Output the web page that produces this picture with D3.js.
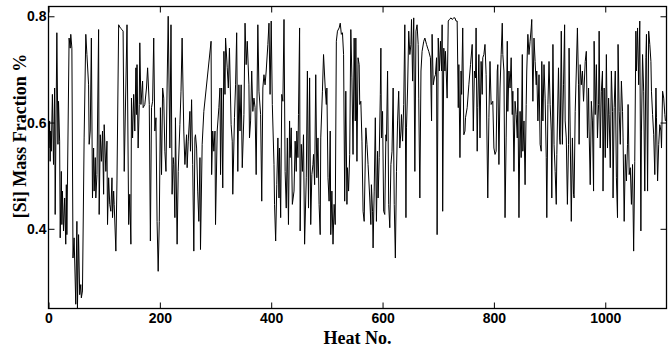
<!DOCTYPE html>
<html><head><meta charset="utf-8">
<script src="https://cdn.jsdelivr.net/npm/d3@7"></script>
<style>body{margin:0;background:#fff}</style></head><body>
<svg id="c" width="668" height="348"></svg>
<script>
const heatNo=[1,2,3,4,5,7,9,11,12,15,17,18,20,21,23,24,25,27,29,31,32,33,37,39,40,42,44,46,49,51,52,54,56,58,59,61,64,67,69,72,73,75,77,79,81,82,84,85,87,90,91,93,95,97,99,100,103,
105,106,108,110,112,114,115,117,118,121,123,126,129,132,134,136,141,144,146,148,149,151,153,155,157,158,159,161,163,164,166,169,170,173,176,178,181,183,185,187,189,191,193,195,197,199,201,203,205,207,209,211,213,215,
218,220,222,224,225,227,228,231,233,236,238,240,243,245,248,249,251,254,255,257,259,261,263,264,266,268,270,272,273,276,279,292,293,295,297,299,300,303,306,308,309,311,313,315,317,318,321,323,325,
328,330,331,334,336,338,340,342,344,346,348,351,353,355,357,360,361,363,365,367,369,371,373,376,378,381,383,385,387,389,391,394,396,398,400,402,405,406,408,410,412,414,415,417,419,421,423,425,427,429,431,433,434,436,438,
441,443,445,446,448,449,451,452,454,456,458,460,463,465,467,469,471,473,475,476,478,480,482,484,486,488,489,492,494,497,499,500,502,504,506,507,509,511,513,515,517,519,522,524,526,528,530,532,534,536,537,539,541,543,545,547,549,
551,552,554,556,558,559,561,563,565,567,570,572,574,577,579,580,582,583,585,587,589,591,592,594,596,597,598,600,602,604,606,607,609,611,613,615,617,619,621,623,625,627,629,631,633,634,636,638,640,642,643,645,647,649,651,652,654,656,658,660,
662,664,665,667,669,671,674,676,679,681,683,686,688,689,691,693,695,697,698,700,702,704,706,707,708,710,712,713,716,718,720,723,725,728,730,732,734,736,737,739,741,742,744,746,748,749,752,755,758,761,763,765,767,768,770,771,
773,775,777,779,780,782,784,786,789,791,793,795,798,800,802,804,806,807,809,811,813,815,816,818,820,822,824,825,827,829,831,833,834,836,838,840,842,843,845,847,849,851,852,854,856,858,859,861,863,865,867,868,870,872,874,876,877,879,881,883,
885,886,888,890,892,894,895,897,899,901,903,904,906,908,910,912,913,916,918,919,921,923,925,927,928,930,932,934,935,937,939,941,943,944,946,948,950,952,953,955,957,959,961,962,964,966,968,970,971,973,975,977,979,980,982,984,986,988,989,991,993,995,
996,998,1000,1002,1004,1006,1007,1009,1011,1013,1014,1016,1018,1020,1022,1023,1025,1027,1029,1031,1032,1034,1036,1038,1040,1041,1043,1045,1047,1049,1051,1053,1055,1056,1058,1060,1062,1064,1065,1067,1069,1071,1073,1074,1076,1078,1080,1082,1083,1085,1087,1089,1091,1092,1094,1096,1098,1100,1101,1103,1105,1107,1108];
const siFraction=[.552,.603,.527,.584,.546,.653,.521,.665,.427,.769,.559,.640,.565,.383,.508,.408,.471,.396,.458,.371,.483,.389,.759,.740,.766,.740,.345,.383,.258,.414,.250,.389,.276,.295,.270,.283,.571,.766,.728,.671,.559,.584,.759,.458,.552,.471,.534,.458,.502,.775,.427,.577,.527,.584,.465,.596,.508,
.565,.408,.496,.446,.433,.496,.421,.471,.446,.358,.490,.784,.778,.775,.772,.508,.784,.408,.465,.371,.646,.571,.653,.584,.703,.615,.709,.552,.634,.750,.634,.678,.628,.634,.665,.703,.634,.377,.628,.640,.759,.584,.609,.414,.320,.414,.628,.502,.665,.646,.546,.508,.665,.800,
.552,.784,.465,.534,.521,.421,.609,.371,.508,.596,.659,.759,.584,.521,.577,.515,.565,.621,.546,.643,.521,.358,.571,.577,.552,.471,.414,.534,.361,.559,.621,.753,.502,.584,.546,.584,.408,.584,.628,.665,.502,.665,.477,.734,.653,.759,.703,.665,.740,
.596,.565,.465,.609,.671,.769,.508,.671,.584,.671,.515,.615,.787,.709,.753,.671,.571,.603,.697,.621,.646,.628,.502,.784,.659,.615,.452,.665,.690,.671,.697,.747,.787,.653,.791,.634,.521,.446,.377,.483,.571,.458,.552,.421,.653,.640,.794,.508,.439,.571,.408,.603,.534,.590,.446,
.471,.565,.508,.584,.534,.615,.778,.396,.559,.508,.577,.371,.496,.697,.439,.684,.408,.502,.521,.540,.483,.690,.496,.571,.446,.389,.571,.659,.728,.665,.634,.665,.496,.452,.584,.389,.471,.371,.446,.408,.753,.772,.778,.787,.766,.769,.728,.452,.659,.446,.515,.471,.540,.775,.684,.540,.759,
.603,.759,.527,.722,.709,.634,.640,.565,.433,.414,.590,.559,.521,.458,.408,.483,.433,.364,.471,.609,.414,.546,.458,.534,.653,.740,.571,.621,.433,.427,.577,.565,.697,.446,.402,.521,.546,.665,.446,.345,.508,.603,.659,.552,.584,.615,.565,.634,.784,.421,.590,.665,.772,.728,.747,.794,.678,.797,.508,.772,
.784,.747,.646,.458,.697,.734,.753,.759,.747,.740,.734,.722,.603,.766,.671,.684,.690,.722,.389,.759,.697,.753,.697,.784,.433,.740,.697,.734,.646,.791,.794,.797,.794,.797,.797,.791,.791,.628,.709,.534,.697,.653,.778,.577,.584,.609,.628,.671,.709,.747,.584,.697,.684,.778,.546,.628,
.728,.571,.715,.653,.722,.728,.747,.690,.458,.609,.715,.634,.640,.552,.540,.546,.697,.709,.521,.665,.728,.787,.728,.697,.421,.571,.753,.621,.697,.665,.722,.615,.659,.508,.640,.615,.571,.665,.421,.621,.534,.728,.546,.603,.483,.634,.697,.766,.728,.753,.778,.794,.640,.759,.715,.671,.697,.603,.690,.559,
.546,.715,.603,.709,.646,.534,.421,.634,.715,.634,.584,.458,.747,.559,.508,.446,.540,.703,.571,.559,.772,.559,.671,.784,.603,.571,.446,.559,.740,.584,.414,.571,.465,.458,.621,.697,.778,.671,.559,.709,.671,.697,.640,.665,.715,.734,.571,.665,.584,.483,.640,.603,.471,.753,.615,.709,.571,.634,.772,.552,.659,.697,
.471,.665,.534,.728,.552,.646,.615,.515,.697,.621,.458,.628,.697,.496,.421,.747,.621,.559,.678,.621,.571,.414,.540,.490,.559,.634,.502,.515,.446,.521,.358,.527,.772,.697,.778,.671,.791,.396,.584,.728,.659,.471,.722,.766,.471,.772,.747,.715,.659,.615,.577,.502,.665,.609,.490,.559,.596,.584,.552,.659,.646,.615,.603];
const xTicks=[0,200,400,600,800,1000];
const yTicks=[0.4,0.6,0.8];
const xLabel="Heat No.";
const yLabel="[Si] Mass Fraction %";

const L=48.5,R=666.5,T=6.5,B=308.5;
const svg=d3.select("#c");
const x=d3.scaleLinear().domain([0,1110]).range([L,R]);
const y=d3.scaleLinear().domain([0.25,0.8184]).range([B,T]);

svg.append("defs").append("clipPath").attr("id","clip")
  .append("rect").attr("x",L).attr("y",T).attr("width",R-L).attr("height",B-T);

const pts=heatNo.map((h,i)=>[h,siFraction[i]]);
svg.append("path").datum(pts)
  .attr("clip-path","url(#clip)")
  .attr("fill","none").attr("stroke","#000").attr("stroke-width",1)
  .attr("stroke-linejoin","round")
  .attr("d",d3.line().x(d=>x(d[0])).y(d=>y(d[1])));

const tickFont="'Liberation Sans', Arial, sans-serif";
function style(g){g.select(".domain").remove();g.selectAll("line").attr("stroke","#000").attr("stroke-width",1);
  g.selectAll("text").attr("font-family",tickFont).attr("font-weight","bold").attr("font-size",14).attr("fill","#000");}

svg.append("g").attr("transform",`translate(0,${B})`)
  .call(d3.axisBottom(x).tickValues(xTicks).tickSizeInner(-6).tickSizeOuter(0).tickPadding(4.5).tickFormat(d3.format("d"))).call(style);
svg.append("g").attr("transform",`translate(0,${T})`)
  .call(d3.axisTop(x).tickValues(xTicks).tickSizeInner(-6).tickSizeOuter(0).tickFormat("")).call(style);
svg.append("g").attr("transform",`translate(${L},0)`)
  .call(d3.axisLeft(y).tickValues(yTicks).tickSizeInner(-6).tickSizeOuter(0).tickPadding(2).tickFormat(d3.format(".1f"))).call(style);
svg.append("g").attr("transform",`translate(${R},0)`)
  .call(d3.axisRight(y).tickValues(yTicks).tickSizeInner(-6).tickSizeOuter(0).tickFormat("")).call(style);

svg.append("rect").attr("x",L).attr("y",T).attr("width",R-L).attr("height",B-T)
  .attr("fill","none").attr("stroke","#000").attr("stroke-width",1.3);

const labFont="'Liberation Serif','Times New Roman',serif";
svg.append("text").attr("x",(L+R)/2).attr("y",344).attr("text-anchor","middle")
  .attr("font-family",labFont).attr("font-weight","bold").attr("font-size",18).text(xLabel);
svg.append("text").attr("transform","translate(25.5,136) rotate(-90)").attr("text-anchor","middle")
  .attr("font-family",labFont).attr("font-weight","bold").attr("font-size",18).text(yLabel);
</script></body></html>
